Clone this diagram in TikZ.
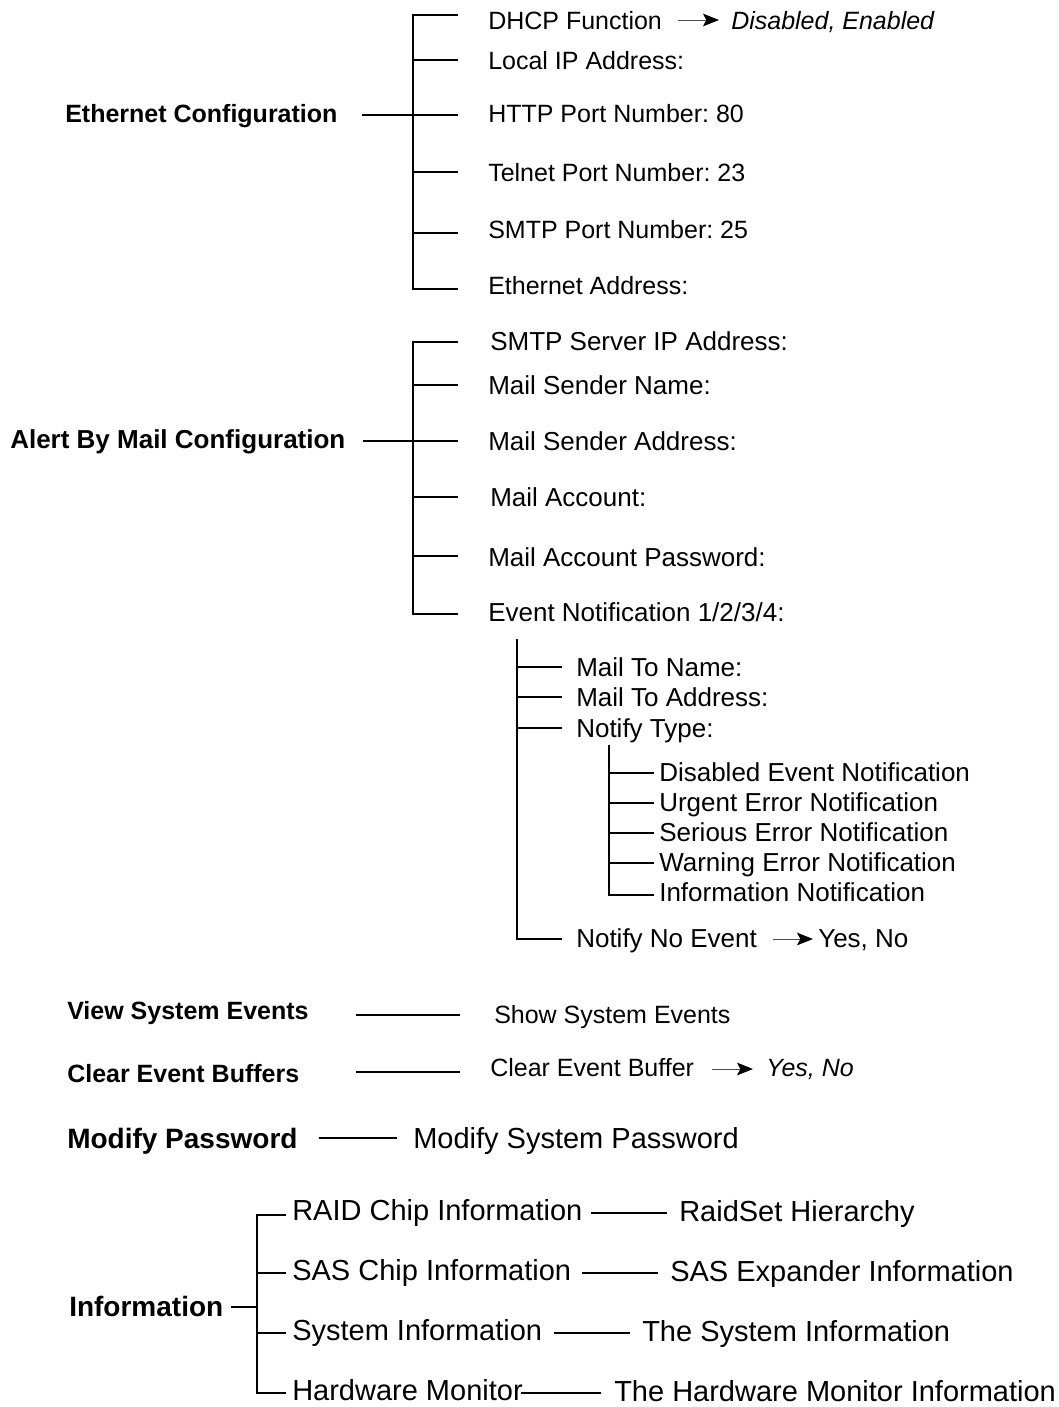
\documentclass[tikz,border=0pt]{standalone}
\usepackage{fontspec}
\setmainfont{Liberation Sans}
\usetikzlibrary{arrows.meta}
\frenchspacing
\begin{document}
\begin{tikzpicture}[x=0.75pt,y=-0.75pt,
  txt/.style={anchor=base west,inner sep=0pt},
  ta/.style={txt,font=\fontsize{18.75pt}{20pt}\selectfont},
  tb/.style={txt,font=\fontsize{19.5pt}{21pt}\selectfont},
  tc/.style={txt,font=\fontsize{21.75pt}{23pt}\selectfont},
  ia/.style={ta,font=\fontsize{18.75pt}{20pt}\selectfont\itshape},
  ha/.style={txt,font=\fontsize{18.75pt}{20pt}\selectfont\bfseries},
  hb/.style={txt,font=\fontsize{19.5pt}{21pt}\selectfont\bfseries},
  hc/.style={txt,font=\fontsize{21pt}{23pt}\selectfont\bfseries},
  br/.style={line width=1.6pt,line cap=rect},
  arr/.style={line width=0.7pt,draw=black!70,-{Stealth[length=12pt,width=9.5pt,inset=2.5pt,color=black]}}
]
\useasboundingbox (0,0) rectangle (1058,1407);

% ---------------- Ethernet Configuration
\node[ha] (eth) at (65,122) {Ethernet Configuration};
\node[ta] (dhcp) at (488,29) {DHCP Function};
\node[ia] (dis) at (731,29) {Disabled, Enabled};
\node[ta] (lip) at (488,69) {Local IP Address:};
\node[ta] (http) at (488,122) {HTTP Port Number: 80};
\node[ta] (tel) at (488,181) {Telnet Port Number: 23};
\node[ta] (smtp) at (488,238) {SMTP Port Number: 25};
\node[ta] (eadr) at (488,294) {Ethernet Address:};
\foreach \i/\y in {1/15,2/60,3/115,4/172,5/233,6/289}{
  \coordinate (eS\i) at (413,\y);
  \coordinate (eT\i) at (457,\y);
}
\coordinate (eM) at (363,115);
\draw[br] (eT1) -- (eS1) -- (eS6) -- (eT6);
\foreach \i in {2,...,5}{\draw[br] (eS\i) -- (eT\i);}
\draw[br] (eM) -- (eS3);
\coordinate (a1s) at (678,20);
\coordinate (a1e) at (719,20);
\draw[arr] (a1s) -- (a1e);

% ---------------- Alert By Mail Configuration
\node[hb] (alert) at (10,448) {Alert By Mail Configuration};
\node[tb] (srv) at (490,350) {SMTP Server IP Address:};
\node[tb] (msn) at (488,394) {Mail Sender Name:};
\node[tb] (msa) at (488,450) {Mail Sender Address:};
\node[tb] (mac) at (490,506) {Mail Account:};
\node[tb] (map) at (488,566) {Mail Account Password:};
\node[tb] (evn) at (488,621) {Event Notification 1/2/3/4:};
\foreach \i/\y in {1/342,2/385,3/441,4/497,5/556,6/614}{
  \coordinate (aS\i) at (413,\y);
  \coordinate (aT\i) at (457,\y);
}
\coordinate (aM) at (364,441);
\draw[br] (aT1) -- (aS1) -- (aS6) -- (aT6);
\foreach \i in {2,...,5}{\draw[br] (aS\i) -- (aT\i);}
\draw[br] (aM) -- (aS3);

% ---------------- Event notification subtree
\node[tb] (mtn) at (576,676) {Mail To Name:};
\node[tb] (mta) at (576,706) {Mail To Address:};
\node[tb] (nty) at (576,737) {Notify Type:};
\node[tb] (nne) at (576,947) {Notify No Event};
\node[tb] (yn1) at (818,947) {Yes, No};
\coordinate (mTop) at (517,640);
\foreach \i/\y in {1/667,2/697,3/728,4/939}{
  \coordinate (mS\i) at (517,\y);
  \coordinate (mT\i) at (561,\y);
}
\draw[br] (mTop) -- (mS4) -- (mT4);
\foreach \i in {1,2,3}{\draw[br] (mS\i) -- (mT\i);}
\coordinate (a2s) at (773,939);
\coordinate (a2e) at (813,939);
\draw[arr] (a2s) -- (a2e);

% ---------------- Notify types
\node[tb] (n1) at (659,781) {Disabled Event Notification};
\node[tb] (n2) at (659,811) {Urgent Error Notification};
\node[tb] (n3) at (659,841) {Serious Error Notification};
\node[tb] (n4) at (659,871) {Warning Error Notification};
\node[tb] (n5) at (659,901) {Information Notification};
\coordinate (nTop) at (609,746);
\foreach \i/\y in {1/773,2/803,3/833,4/863,5/895}{
  \coordinate (nS\i) at (609,\y);
  \coordinate (nT\i) at (653,\y);
}
\draw[br] (nTop) -- (nS5) -- (nT5);
\foreach \i in {1,...,4}{\draw[br] (nS\i) -- (nT\i);}

% ---------------- View / Clear / Modify
\node[ha] (view) at (67,1019) {View System Events};
\node[ta] (show) at (494,1023) {Show System Events};
\coordinate (vA) at (357,1015);
\coordinate (vB) at (459,1015);
\draw[br] (vA) -- (vB);

\node[ha] (clear) at (67,1082) {Clear Event Buffers};
\node[ta] (ceb) at (490,1076) {Clear Event Buffer};
\node[ia] (yn2) at (766,1076) {Yes, No};
\coordinate (cA) at (357,1072);
\coordinate (cB) at (459,1072);
\draw[br] (cA) -- (cB);
\coordinate (a3s) at (712,1069);
\coordinate (a3e) at (753,1069);
\draw[arr] (a3s) -- (a3e);

\node[hc] (mod) at (67,1148) {Modify Password};
\node[tc] (msp) at (413,1148) {Modify System Password};
\coordinate (mA) at (320,1138);
\coordinate (mB) at (396,1138);
\draw[br] (mA) -- (mB);

% ---------------- Information
\node[hc] (info) at (69,1316) {Information};
\node[tc] (raid) at (292,1220) {RAID Chip Information};
\node[tc] (sas) at (292,1280) {SAS Chip Information};
\node[tc] (sys) at (292,1340) {System Information};
\node[tc] (hw) at (292,1400) {Hardware Monitor};
\node[tc] (rsh) at (679,1221) {RaidSet Hierarchy};
\node[tc] (sexp) at (670,1281) {SAS Expander Information};
\node[tc] (tsi) at (642,1341) {The System Information};
\node[tc] (thm) at (614,1401) {The Hardware Monitor Information};
\foreach \i/\y in {1/1215,2/1273,3/1333,4/1393}{
  \coordinate (iS\i) at (257,\y);
  \coordinate (iT\i) at (285,\y);
}
\coordinate (iM) at (232,1307);
\coordinate (iJ) at (257,1307);
\draw[br] (iT1) -- (iS1) -- (iS4) -- (iT4);
\foreach \i in {2,3}{\draw[br] (iS\i) -- (iT\i);}
\draw[br] (iM) -- (iJ);
\foreach \i/\a/\b/\y in {1/592/666/1213,2/583/657/1273,3/555/629/1333,4/522/600/1393}{
  \coordinate (rA\i) at (\a,\y);
  \coordinate (rB\i) at (\b,\y);
  \draw[br] (rA\i) -- (rB\i);
}
\end{tikzpicture}
\end{document}
